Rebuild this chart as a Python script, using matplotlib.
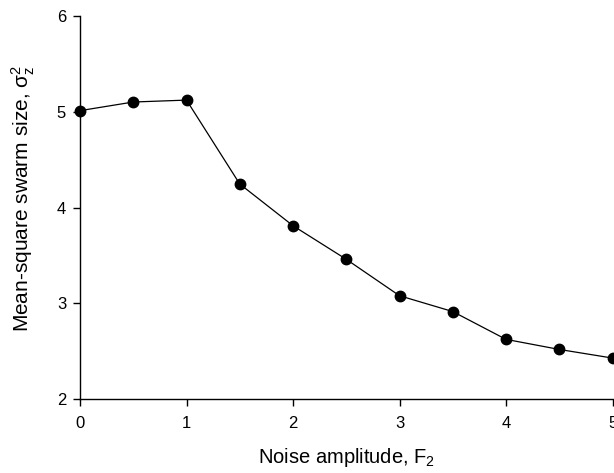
import matplotlib
matplotlib.use("Agg")
import matplotlib.pyplot as plt

plt.rcParams['font.family'] = ['Liberation Sans', 'DejaVu Sans']
plt.rcParams['mathtext.default'] = 'regular'

noise_amplitude = [0, 0.5, 1, 1.5, 2, 2.5, 3, 3.5, 4, 4.5, 5]
swarm_size = [5.01, 5.10, 5.12, 4.245, 3.81, 3.46, 3.08, 2.915, 2.625, 2.52, 2.43]
x_ticks = [0, 1, 2, 3, 4, 5]
y_ticks = [2, 3, 4, 5, 6]

fig = plt.figure(figsize=(6.14, 4.73), dpi=100)
ax = fig.add_axes([0.1303, 0.1558, 0.8673, 0.811])
ax.plot(noise_amplitude, swarm_size, color='black', linewidth=0.9,
        marker='o', markersize=7.5, clip_on=False, zorder=3)
ax.set_xlim(0, 5)
ax.set_ylim(2, 6)
ax.set_xticks(x_ticks)
ax.set_yticks(y_ticks)
for s in ['top', 'right']:
    ax.spines[s].set_visible(False)
for s in ['left', 'bottom']:
    ax.spines[s].set_linewidth(1.0)
ax.tick_params(direction='out', length=5, width=1.0, labelsize=12)
ax.tick_params(axis='x', pad=7)
ax.tick_params(axis='y', pad=5)
ax.set_xlabel(r'Noise amplitude, F$_2$', fontsize=14.5, labelpad=11)
ax.set_ylabel(r'Mean-square swarm size, $\sigma_z^2$', fontsize=15)
ax.yaxis.set_label_coords(-0.08, 0.525)
fig.savefig("out.png", dpi=100)
